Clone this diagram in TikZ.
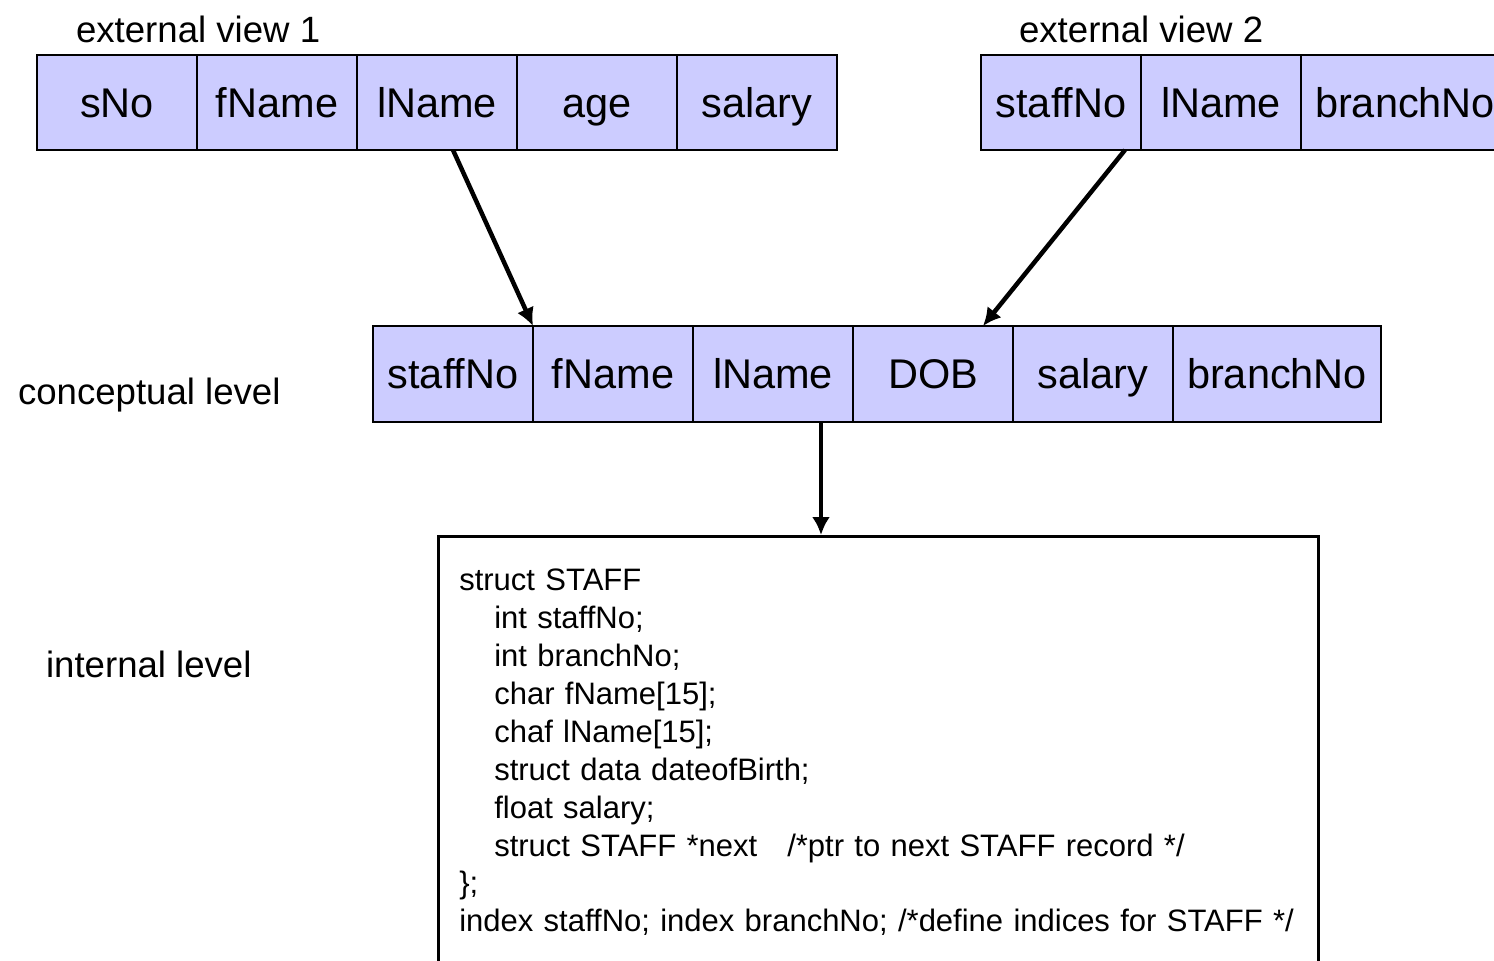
\documentclass[tikz,border=0pt]{standalone}
\usepackage{fontspec}
\setmainfont{Liberation Sans}
\usetikzlibrary{arrows.meta,positioning}
\definecolor{cellfill}{RGB}{204,204,255}

\begin{document}
\begin{tikzpicture}[x=0.5pt,y=-0.5pt,>={Latex[length=9pt,width=9pt]}]
\tikzset{
  cell/.style={draw,fill=cellfill,line width=1.25pt,outer sep=0pt,inner sep=0pt,minimum width=80pt,minimum height=47.5pt,text height=14.9pt,text depth=0pt,font=\fontsize{20.75}{24}\selectfont},
  widecell/.style={cell,minimum width=104pt},
  level/.style={anchor=base west,font=\fontsize{18.3}{22}\selectfont},
  link/.style={->,line width=2.25pt}
}
\useasboundingbox (0,0) rectangle (1494,960);
\clip (0,0) rectangle (1494,960);

% external view 1
\node[cell]     (e1) at (117,102.5)   {sNo};
\node[cell]     (e2) [right=0pt of e1] {fName};
\node[cell]     (e3) [right=0pt of e2] {lName};
\node[cell]     (e4) [right=0pt of e3] {age};
\node[cell]     (e5) [right=0pt of e4] {salary};
\node[level]    (ev1) at (69,42)       {external view 1};

% external view 2
\node[cell]     (f1) at (1061,102.5)  {staffNo};
\node[cell]     (f2) [right=0pt of f1] {lName};
\node[widecell] (f3) [right=0pt of f2] {branchNo};
\node[level]    (ev2) at (1012,42)     {external view 2};

% conceptual level
\node[cell,minimum height=48pt]     (c1) at (453,374)     {staffNo};
\node[cell,minimum height=48pt]     (c2) [right=0pt of c1] {fName};
\node[cell,minimum height=48pt]     (c3) [right=0pt of c2] {lName};
\node[cell,minimum height=48pt]     (c4) [right=0pt of c3] {DOB};
\node[cell,minimum height=48pt]     (c5) [right=0pt of c4] {salary};
\node[widecell,minimum height=48pt] (c6) [right=0pt of c5] {branchNo};
\node[level]    (cl) at (11,404)       {conceptual level};

% internal level
\node[draw,line width=1.3pt,anchor=north west,inner xsep=10.5pt,inner ysep=16.4pt,text width=419pt,align=left,
      font=\fontsize{15.5}{18.95}\selectfont] (code) at (437,535) {struct STAFF\\
\hspace*{17.5pt}int staffNo;\\
\hspace*{17.5pt}int branchNo;\\
\hspace*{17.5pt}char fName[15];\\
\hspace*{17.5pt}chaf lName[15];\\
\hspace*{17.5pt}struct data dateofBirth;\\
\hspace*{17.5pt}float salary;\\
\hspace*{17.5pt}struct STAFF *next\hspace{15pt}/*ptr to next STAFF record */\\
\};\\
index staffNo; index branchNo; /*define indices for STAFF */};
\node[level]    (il) at (39,677)       {internal level};

\draw[link] ([xshift=8pt]e3.south) -- (c1.north east);
\draw[link] ([xshift=32pt]f1.south) -- ([xshift=25pt]c4.north);
\draw[link] ([xshift=24pt]c3.south) -- ([xshift=24pt]c3.south |- code.north);
\end{tikzpicture}
\end{document}
